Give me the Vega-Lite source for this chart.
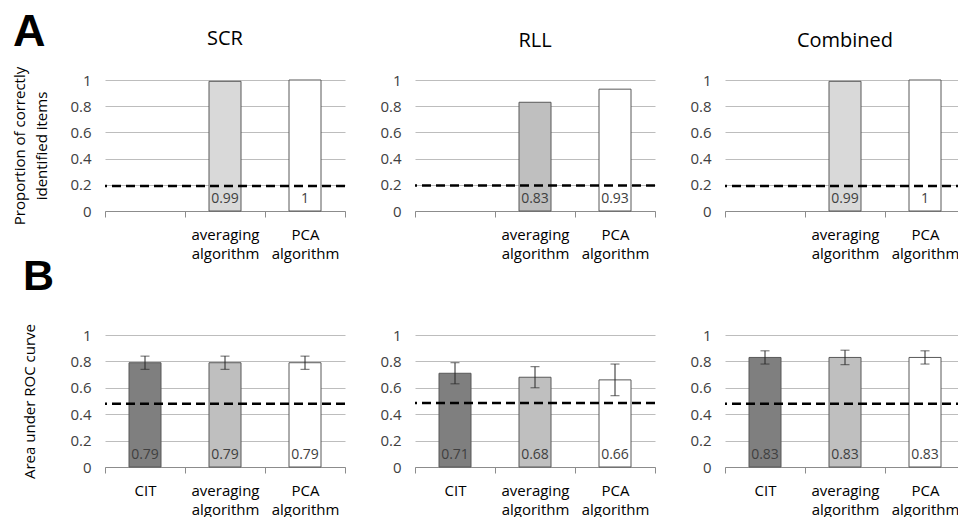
{
  "$schema": "https://vega.github.io/schema/vega-lite/v6.json",
  "padding": {"left": 12, "top": 10, "right": 0, "bottom": 0},
  "config": {
    "font": "Open Sans",
    "view": {"stroke": null},
    "title": {"font": "Open Sans", "fontWeight": "normal", "color": "#000000"},
    "axisY": {
      "values": [0, 0.2, 0.4, 0.6, 0.8, 1],
      "format": "~g",
      "domain": false,
      "ticks": false,
      "gridColor": "#bdbdbd",
      "gridWidth": 1,
      "labelFontSize": 15,
      "labelColor": "#404040",
      "labelPadding": 14,
      "titleFontSize": 15,
      "titleFontWeight": "normal",
      "titleColor": "#000000",
      "titleLineHeight": 22
    },
    "axisX": {
      "title": null,
      "grid": false,
      "domainColor": "#8c8c8c",
      "tickColor": "#8c8c8c",
      "tickSize": 6,
      "tickBand": "extent",
      "labelAngle": 0,
      "labelFontSize": 15,
      "labelColor": "#000000",
      "labelPadding": 10,
      "labelLineHeight": 19,
      "labelBaseline": "top"
    }
  },
  "datasets": {
    "a": [
      {"panel": "SCR", "cat": "averaging algorithm", "value": 0.99},
      {"panel": "SCR", "cat": "PCA algorithm", "value": 1},
      {"panel": "RLL", "cat": "averaging algorithm", "value": 0.83},
      {"panel": "RLL", "cat": "PCA algorithm", "value": 0.93},
      {"panel": "Combined", "cat": "averaging algorithm", "value": 0.99},
      {"panel": "Combined", "cat": "PCA algorithm", "value": 1}
    ],
    "b": [
      {"panel": "SCR", "cat": "CIT", "value": 0.79, "lo": 0.74, "hi": 0.84},
      {"panel": "SCR", "cat": "averaging algorithm", "value": 0.79, "lo": 0.74, "hi": 0.84},
      {"panel": "SCR", "cat": "PCA algorithm", "value": 0.79, "lo": 0.74, "hi": 0.84},
      {"panel": "RLL", "cat": "CIT", "value": 0.71, "lo": 0.63, "hi": 0.79},
      {"panel": "RLL", "cat": "averaging algorithm", "value": 0.68, "lo": 0.6, "hi": 0.76},
      {"panel": "RLL", "cat": "PCA algorithm", "value": 0.66, "lo": 0.54, "hi": 0.78},
      {"panel": "Combined", "cat": "CIT", "value": 0.83, "lo": 0.78, "hi": 0.88},
      {"panel": "Combined", "cat": "averaging algorithm", "value": 0.83, "lo": 0.775, "hi": 0.885},
      {"panel": "Combined", "cat": "PCA algorithm", "value": 0.83, "lo": 0.78, "hi": 0.88}
    ],
    "chance": [
      {"row": "A", "panel": "SCR", "y": 0.19},
      {"row": "A", "panel": "RLL", "y": 0.195},
      {"row": "A", "panel": "Combined", "y": 0.19},
      {"row": "B", "panel": "SCR", "y": 0.48},
      {"row": "B", "panel": "RLL", "y": 0.485},
      {"row": "B", "panel": "Combined", "y": 0.48}
    ]
  },
  "spacing": -6,
  "resolve": {"scale": {"fill": "independent", "x": "independent", "y": "independent"}},
  "vconcat": [
    {
      "title": {"text": "A", "anchor": "start", "font": "Liberation Sans", "fontSize": 45, "fontWeight": "bold", "offset": -26},
      "bounds": "flush",
      "spacing": 70,
      "resolve": {"scale": {"fill": "independent", "x": "independent", "y": "independent"}},
      "hconcat": [
        {
          "width": 240, "height": 131,
          "title": {"text": "SCR", "fontSize": 20, "offset": 17, "frame": "group"},
          "layer": [
            {"data": {"name": "a"}, "transform": [{"filter": "datum.panel == 'SCR'"}],
             "mark": {"type": "bar", "stroke": "#595959", "strokeWidth": 1, "width": {"band": 0.4}},
             "encoding": {
               "x": {"field": "cat", "type": "nominal", "sort": null, "scale": {"domain": ["CIT", "averaging algorithm", "PCA algorithm"], "paddingInner": 0, "paddingOuter": 0}, "axis": {"labelExpr": "!isValid(datum.value) || datum.value == 'CIT' ? '' : split(datum.value, ' ')"}},
               "y": {"field": "value", "type": "quantitative", "scale": {"domain": [0, 1]}, "axis": {"title": ["Proportion of correctly", "identified items"], "titlePadding": 20}},
               "fill": {"field": "cat", "type": "nominal", "scale": {"domain": ["averaging algorithm", "PCA algorithm"], "range": ["#d9d9d9", "#ffffff"]}, "legend": null}
             }},
            {"data": {"name": "a"}, "transform": [{"filter": "datum.panel == 'SCR'"}],
             "mark": {"type": "text", "fontSize": 14, "color": "#404040", "baseline": "alphabetic", "dy": -8},
             "encoding": {
               "x": {"field": "cat", "type": "nominal"},
               "y": {"datum": 0, "type": "quantitative"},
               "text": {"field": "value", "type": "quantitative", "format": "~g"}
             }},
            {"data": {"name": "chance"}, "transform": [{"filter": "datum.row == 'A' && datum.panel == 'SCR'"}],
             "mark": {"type": "rule", "color": "#000000", "strokeWidth": 2.5, "strokeDash": [9, 5]},
             "encoding": {"y": {"field": "y", "type": "quantitative"}}}
          ]
        },
        {
          "width": 240, "height": 131,
          "title": {"text": "RLL", "fontSize": 20, "offset": 22, "frame": "group"},
          "layer": [
            {"data": {"name": "a"}, "transform": [{"filter": "datum.panel == 'RLL'"}],
             "mark": {"type": "bar", "stroke": "#595959", "strokeWidth": 1, "width": {"band": 0.4}},
             "encoding": {
               "x": {"field": "cat", "type": "nominal", "sort": null, "scale": {"domain": ["CIT", "averaging algorithm", "PCA algorithm"], "paddingInner": 0, "paddingOuter": 0}, "axis": {"labelExpr": "!isValid(datum.value) || datum.value == 'CIT' ? '' : split(datum.value, ' ')"}},
               "y": {"field": "value", "type": "quantitative", "scale": {"domain": [0, 1]}, "axis": {"title": null}},
               "fill": {"field": "cat", "type": "nominal", "scale": {"domain": ["averaging algorithm", "PCA algorithm"], "range": ["#bfbfbf", "#ffffff"]}, "legend": null}
             }},
            {"data": {"name": "a"}, "transform": [{"filter": "datum.panel == 'RLL'"}],
             "mark": {"type": "text", "fontSize": 14, "color": "#404040", "baseline": "alphabetic", "dy": -8},
             "encoding": {
               "x": {"field": "cat", "type": "nominal"},
               "y": {"datum": 0, "type": "quantitative"},
               "text": {"field": "value", "type": "quantitative", "format": "~g"}
             }},
            {"data": {"name": "chance"}, "transform": [{"filter": "datum.row == 'A' && datum.panel == 'RLL'"}],
             "mark": {"type": "rule", "color": "#000000", "strokeWidth": 2.5, "strokeDash": [9, 5]},
             "encoding": {"y": {"field": "y", "type": "quantitative"}}}
          ]
        },
        {
          "width": 240, "height": 131,
          "title": {"text": "Combined", "fontSize": 20, "offset": 22, "frame": "group"},
          "layer": [
            {"data": {"name": "a"}, "transform": [{"filter": "datum.panel == 'Combined'"}],
             "mark": {"type": "bar", "stroke": "#595959", "strokeWidth": 1, "width": {"band": 0.4}},
             "encoding": {
               "x": {"field": "cat", "type": "nominal", "sort": null, "scale": {"domain": ["CIT", "averaging algorithm", "PCA algorithm"], "paddingInner": 0, "paddingOuter": 0}, "axis": {"labelExpr": "!isValid(datum.value) || datum.value == 'CIT' ? '' : split(datum.value, ' ')"}},
               "y": {"field": "value", "type": "quantitative", "scale": {"domain": [0, 1]}, "axis": {"title": null}},
               "fill": {"field": "cat", "type": "nominal", "scale": {"domain": ["averaging algorithm", "PCA algorithm"], "range": ["#d9d9d9", "#ffffff"]}, "legend": null}
             }},
            {"data": {"name": "a"}, "transform": [{"filter": "datum.panel == 'Combined'"}],
             "mark": {"type": "text", "fontSize": 14, "color": "#404040", "baseline": "alphabetic", "dy": -8},
             "encoding": {
               "x": {"field": "cat", "type": "nominal"},
               "y": {"datum": 0, "type": "quantitative"},
               "text": {"field": "value", "type": "quantitative", "format": "~g"}
             }},
            {"data": {"name": "chance"}, "transform": [{"filter": "datum.row == 'A' && datum.panel == 'Combined'"}],
             "mark": {"type": "rule", "color": "#000000", "strokeWidth": 2.5, "strokeDash": [9, 5]},
             "encoding": {"y": {"field": "y", "type": "quantitative"}}}
          ]
        }
      ]
    },
    {
      "title": {"text": "B", "anchor": "start", "font": "Liberation Sans", "fontSize": 43, "fontWeight": "bold", "offset": 25},
      "bounds": "flush",
      "spacing": 70,
      "resolve": {"scale": {"fill": "independent", "x": "independent", "y": "independent"}},
      "hconcat": [
        {
          "width": 240, "height": 132,
          "layer": [
            {"data": {"name": "b"}, "transform": [{"filter": "datum.panel == 'SCR'"}],
             "mark": {"type": "bar", "stroke": "#595959", "strokeWidth": 1, "width": {"band": 0.4}},
             "encoding": {
               "x": {"field": "cat", "type": "nominal", "sort": null, "scale": {"domain": ["CIT", "averaging algorithm", "PCA algorithm"], "paddingInner": 0, "paddingOuter": 0}, "axis": {"labelExpr": "!isValid(datum.value) ? '' : split(datum.value, ' ')"}},
               "y": {"field": "value", "type": "quantitative", "scale": {"domain": [0, 1]}, "axis": {"title": "Area under ROC curve", "titlePadding": 32}},
               "fill": {"field": "cat", "type": "nominal", "scale": {"domain": ["CIT", "averaging algorithm", "PCA algorithm"], "range": ["#7f7f7f", "#bfbfbf", "#ffffff"]}, "legend": null}
             }},
            {"data": {"name": "b"}, "transform": [{"filter": "datum.panel == 'SCR'"}],
             "mark": {"type": "rule", "color": "#262626", "strokeWidth": 1},
             "encoding": {"x": {"field": "cat", "type": "nominal"}, "y": {"field": "lo", "type": "quantitative"}, "y2": {"field": "hi"}}},
            {"data": {"name": "b"}, "transform": [{"filter": "datum.panel == 'SCR'"}],
             "mark": {"type": "tick", "color": "#262626", "thickness": 1, "size": 9},
             "encoding": {"x": {"field": "cat", "type": "nominal"}, "y": {"field": "lo", "type": "quantitative"}}},
            {"data": {"name": "b"}, "transform": [{"filter": "datum.panel == 'SCR'"}],
             "mark": {"type": "tick", "color": "#262626", "thickness": 1, "size": 9},
             "encoding": {"x": {"field": "cat", "type": "nominal"}, "y": {"field": "hi", "type": "quantitative"}}},
            {"data": {"name": "b"}, "transform": [{"filter": "datum.panel == 'SCR'"}],
             "mark": {"type": "text", "fontSize": 14, "color": "#404040", "baseline": "alphabetic", "dy": -8},
             "encoding": {
               "x": {"field": "cat", "type": "nominal"},
               "y": {"datum": 0, "type": "quantitative"},
               "text": {"field": "value", "type": "quantitative", "format": "~g"}
             }},
            {"data": {"name": "chance"}, "transform": [{"filter": "datum.row == 'B' && datum.panel == 'SCR'"}],
             "mark": {"type": "rule", "color": "#000000", "strokeWidth": 2.5, "strokeDash": [9, 5]},
             "encoding": {"y": {"field": "y", "type": "quantitative"}}}
          ]
        },
        {
          "width": 240, "height": 132,
          "layer": [
            {"data": {"name": "b"}, "transform": [{"filter": "datum.panel == 'RLL'"}],
             "mark": {"type": "bar", "stroke": "#595959", "strokeWidth": 1, "width": {"band": 0.4}},
             "encoding": {
               "x": {"field": "cat", "type": "nominal", "sort": null, "scale": {"domain": ["CIT", "averaging algorithm", "PCA algorithm"], "paddingInner": 0, "paddingOuter": 0}, "axis": {"labelExpr": "!isValid(datum.value) ? '' : split(datum.value, ' ')"}},
               "y": {"field": "value", "type": "quantitative", "scale": {"domain": [0, 1]}, "axis": {"title": null}},
               "fill": {"field": "cat", "type": "nominal", "scale": {"domain": ["CIT", "averaging algorithm", "PCA algorithm"], "range": ["#7f7f7f", "#bfbfbf", "#ffffff"]}, "legend": null}
             }},
            {"data": {"name": "b"}, "transform": [{"filter": "datum.panel == 'RLL'"}],
             "mark": {"type": "rule", "color": "#262626", "strokeWidth": 1},
             "encoding": {"x": {"field": "cat", "type": "nominal"}, "y": {"field": "lo", "type": "quantitative"}, "y2": {"field": "hi"}}},
            {"data": {"name": "b"}, "transform": [{"filter": "datum.panel == 'RLL'"}],
             "mark": {"type": "tick", "color": "#262626", "thickness": 1, "size": 9},
             "encoding": {"x": {"field": "cat", "type": "nominal"}, "y": {"field": "lo", "type": "quantitative"}}},
            {"data": {"name": "b"}, "transform": [{"filter": "datum.panel == 'RLL'"}],
             "mark": {"type": "tick", "color": "#262626", "thickness": 1, "size": 9},
             "encoding": {"x": {"field": "cat", "type": "nominal"}, "y": {"field": "hi", "type": "quantitative"}}},
            {"data": {"name": "b"}, "transform": [{"filter": "datum.panel == 'RLL'"}],
             "mark": {"type": "text", "fontSize": 14, "color": "#404040", "baseline": "alphabetic", "dy": -8},
             "encoding": {
               "x": {"field": "cat", "type": "nominal"},
               "y": {"datum": 0, "type": "quantitative"},
               "text": {"field": "value", "type": "quantitative", "format": "~g"}
             }},
            {"data": {"name": "chance"}, "transform": [{"filter": "datum.row == 'B' && datum.panel == 'RLL'"}],
             "mark": {"type": "rule", "color": "#000000", "strokeWidth": 2.5, "strokeDash": [9, 5]},
             "encoding": {"y": {"field": "y", "type": "quantitative"}}}
          ]
        },
        {
          "width": 240, "height": 132,
          "layer": [
            {"data": {"name": "b"}, "transform": [{"filter": "datum.panel == 'Combined'"}],
             "mark": {"type": "bar", "stroke": "#595959", "strokeWidth": 1, "width": {"band": 0.4}},
             "encoding": {
               "x": {"field": "cat", "type": "nominal", "sort": null, "scale": {"domain": ["CIT", "averaging algorithm", "PCA algorithm"], "paddingInner": 0, "paddingOuter": 0}, "axis": {"labelExpr": "!isValid(datum.value) ? '' : split(datum.value, ' ')"}},
               "y": {"field": "value", "type": "quantitative", "scale": {"domain": [0, 1]}, "axis": {"title": null}},
               "fill": {"field": "cat", "type": "nominal", "scale": {"domain": ["CIT", "averaging algorithm", "PCA algorithm"], "range": ["#7f7f7f", "#bfbfbf", "#ffffff"]}, "legend": null}
             }},
            {"data": {"name": "b"}, "transform": [{"filter": "datum.panel == 'Combined'"}],
             "mark": {"type": "rule", "color": "#262626", "strokeWidth": 1},
             "encoding": {"x": {"field": "cat", "type": "nominal"}, "y": {"field": "lo", "type": "quantitative"}, "y2": {"field": "hi"}}},
            {"data": {"name": "b"}, "transform": [{"filter": "datum.panel == 'Combined'"}],
             "mark": {"type": "tick", "color": "#262626", "thickness": 1, "size": 9},
             "encoding": {"x": {"field": "cat", "type": "nominal"}, "y": {"field": "lo", "type": "quantitative"}}},
            {"data": {"name": "b"}, "transform": [{"filter": "datum.panel == 'Combined'"}],
             "mark": {"type": "tick", "color": "#262626", "thickness": 1, "size": 9},
             "encoding": {"x": {"field": "cat", "type": "nominal"}, "y": {"field": "hi", "type": "quantitative"}}},
            {"data": {"name": "b"}, "transform": [{"filter": "datum.panel == 'Combined'"}],
             "mark": {"type": "text", "fontSize": 14, "color": "#404040", "baseline": "alphabetic", "dy": -8},
             "encoding": {
               "x": {"field": "cat", "type": "nominal"},
               "y": {"datum": 0, "type": "quantitative"},
               "text": {"field": "value", "type": "quantitative", "format": "~g"}
             }},
            {"data": {"name": "chance"}, "transform": [{"filter": "datum.row == 'B' && datum.panel == 'Combined'"}],
             "mark": {"type": "rule", "color": "#000000", "strokeWidth": 2.5, "strokeDash": [9, 5]},
             "encoding": {"y": {"field": "y", "type": "quantitative"}}}
          ]
        }
      ]
    }
  ]
}
